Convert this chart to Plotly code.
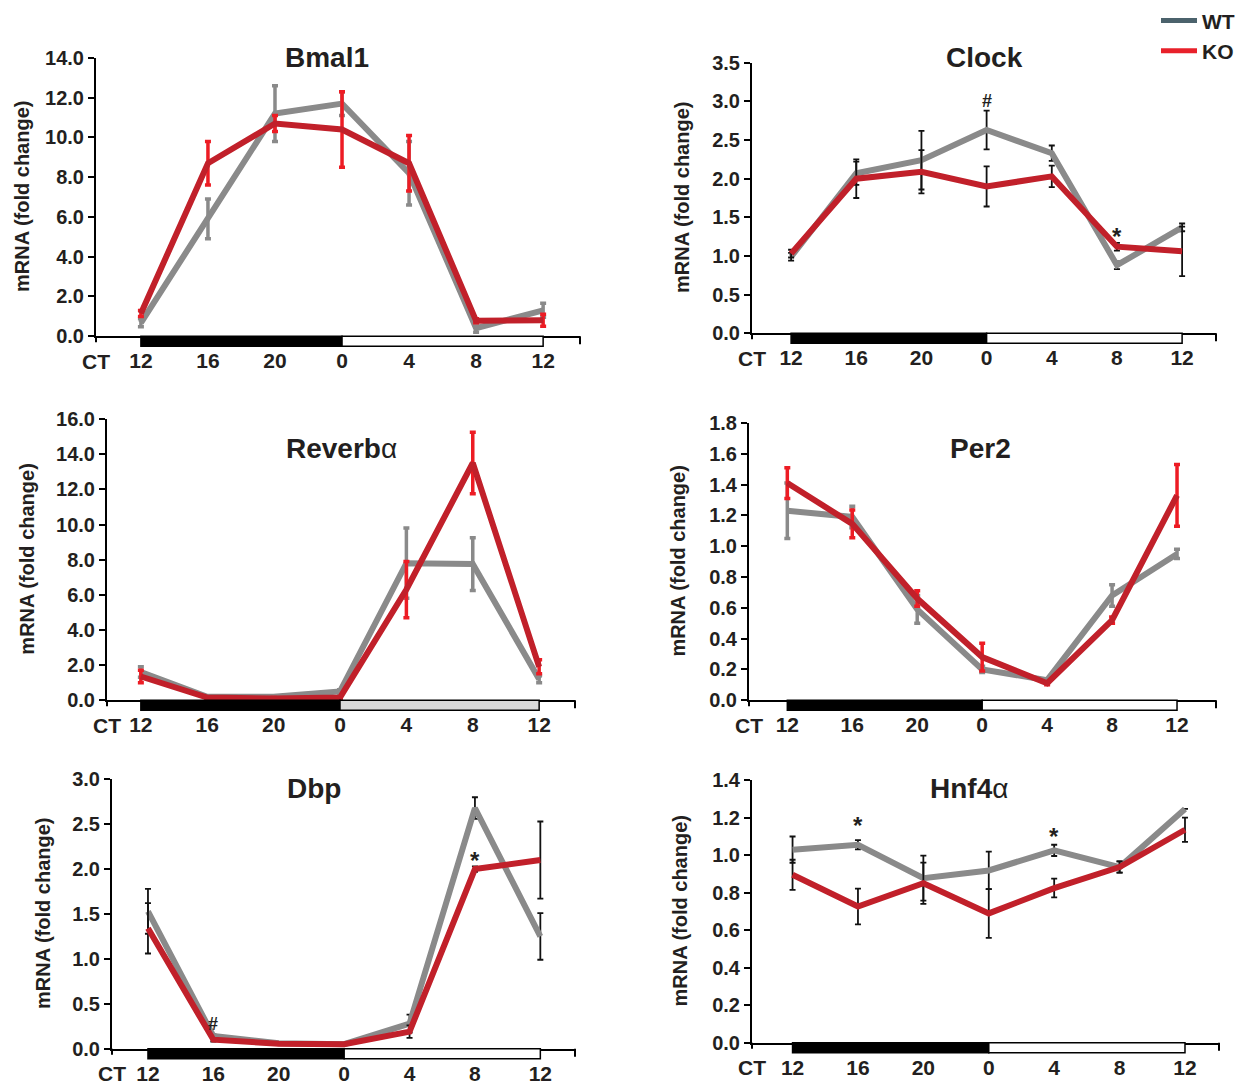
import plotly.graph_objects as go

W, H = 1257, 1087

# ---------------- data ----------------
tick_labels = ["12", "16", "20", "0", "4", "8", "12"]
time_idx = [0, 1, 2, 3, 4, 5, 6]

bmal1_wt = [0.67, 5.9, 11.2, 11.7, 8.2, 0.4, 1.3]
bmal1_wt_err = [0.2, 1.0, 1.4, 0.6, 1.6, 0.2, 0.35]
bmal1_ko = [1.14, 8.7, 10.7, 10.4, 8.7, 0.77, 0.8]
bmal1_ko_err = [0.15, 1.1, 0.4, 1.9, 1.4, 0.1, 0.3]

clock_wt = [0.99, 2.07, 2.24, 2.63, 2.33, 0.88, 1.37]
clock_wt_err = [0.05, 0.15, 0.38, 0.25, 0.1, 0.05, 0.05]
clock_ko = [1.03, 2.0, 2.09, 1.9, 2.03, 1.12, 1.06]
clock_ko_err = [0.05, 0.25, 0.28, 0.26, 0.14, 0.05, 0.32]

reverb_wt = [1.6, 0.2, 0.2, 0.5, 7.8, 7.75, 1.2]
reverb_wt_err = [0.3, 0.05, 0.05, 0.1, 2.0, 1.5, 0.2]
reverb_ko = [1.35, 0.15, 0.1, 0.15, 6.3, 13.5, 1.9]
reverb_ko_err = [0.35, 0.05, 0.05, 0.05, 1.6, 1.75, 0.4]

per2_wt = [1.23, 1.19, 0.59, 0.2, 0.13, 0.68, 0.95]
per2_wt_err = [0.18, 0.07, 0.09, 0.02, 0.01, 0.07, 0.03]
per2_ko = [1.41, 1.145, 0.66, 0.28, 0.11, 0.52, 1.33]
per2_ko_err = [0.1, 0.09, 0.05, 0.09, 0.01, 0.02, 0.2]

dbp_wt = [1.53, 0.14, 0.06, 0.05, 0.28, 2.68, 1.25]
dbp_wt_err = [0.25, 0.02, 0.01, 0.01, 0.1, 0.12, 0.26]
dbp_ko = [1.34, 0.1, 0.055, 0.05, 0.19, 2.0, 2.1]
dbp_ko_err = [0.28, 0.02, 0.01, 0.01, 0.07, 0.03, 0.43]

hnf4a_wt = [1.03, 1.056, 0.878, 0.919, 1.026, 0.937, 1.247]
hnf4a_wt_err = [0.07, 0.025, 0.12, 0.1, 0.03, 0.03, 0.0]
hnf4a_ko = [0.896, 0.727, 0.851, 0.69, 0.825, 0.937, 1.136]
hnf4a_ko_err = [0.08, 0.095, 0.11, 0.13, 0.05, 0.03, 0.065]

# significance marks: (time index, y, symbol)
clock_marks = [(3, 3.0, "#"), (5, 1.25, "*")]
dbp_marks = [(1, 0.27, "#"), (5, 2.1, "*")]
hnf4a_marks = [(1, 1.16, "*"), (4, 1.1, "*")]

# ---------------- styling / layout ----------------
WT_LINE = "#8a8a8a"
KO_LINE = "#c1202a"
WT_ERR_C = "#8a8a8a"
KO_ERR_C = "#ed1c24"
FONT = "Liberation Sans"
TXT = "#231f20"
ALPHA = "<span style='font-weight:normal'>α</span>"

panels = [
    dict(name="Bmal1", wt=bmal1_wt, wte=bmal1_wt_err, ko=bmal1_ko, koe=bmal1_ko_err,
         colored=True, yr=[0, 14], dt=2, box=(96, 580, 44, 329), xr=[-0.67, 6.55],
         tx=0.477, ty=1.0, ylx=22, marks=[], light=False),
    dict(name="Clock", wt=clock_wt, wte=clock_wt_err, ko=clock_ko, koe=clock_ko_err,
         colored=False, yr=[0, 3.5], dt=0.5, box=(752, 1216, 49, 326), xr=[-0.6, 6.52],
         tx=0.5, ty=1.02, ylx=682, marks=clock_marks, light=False),
    dict(name="Reverb" + ALPHA, wt=reverb_wt, wte=reverb_wt_err, ko=reverb_ko,
         koe=reverb_ko_err, colored=True, yr=[0, 16], dt=2, box=(107, 575, 414, 702),
         xr=[-0.51, 6.54], tx=0.502, ty=0.894, ylx=27, marks=[], light=True),
    dict(name="Per2", wt=per2_wt, wte=per2_wt_err, ko=per2_ko, koe=per2_ko_err,
         colored=True, yr=[0, 1.8], dt=0.2, box=(749, 1216, 418, 702), xr=[-0.59, 6.6],
         tx=0.495, ty=0.907, ylx=678, marks=[], light=False),
    dict(name="Dbp", wt=dbp_wt, wte=dbp_wt_err, ko=dbp_ko, koe=dbp_ko_err,
         colored=False, yr=[0, 3], dt=0.5, box=(112, 575, 783, 1059), xr=[-0.55, 6.53],
         tx=0.436, ty=0.967, ylx=43, marks=dbp_marks, light=False),
    dict(name="Hnf4" + ALPHA, wt=hnf4a_wt, wte=hnf4a_wt_err, ko=hnf4a_ko,
         koe=hnf4a_ko_err, colored=False, yr=[0, 1.4], dt=0.2, box=(752, 1219, 784, 1053),
         xr=[-0.62, 6.52], tx=0.465, ty=0.97, ylx=680, marks=hnf4a_marks, light=False),
]

fig = go.Figure()
annotations = []
shapes = []

for i, p in enumerate(panels, start=1):
    sx = "" if i == 1 else str(i)
    xa, ya = "x" + sx, "y" + sx
    if p["colored"]:
        wt_ec, ko_ec, th, cw = WT_ERR_C, KO_ERR_C, 3.5, 3
    else:
        wt_ec, ko_ec, th, cw = "#111111", "#111111", 1.8, 3
    fig.add_trace(go.Scatter(
        x=time_idx, y=p["wt"], mode="lines", xaxis=xa, yaxis=ya,
        line=dict(color=WT_LINE, width=6), showlegend=False,
        error_y=dict(type="data", array=p["wte"], visible=True, color=wt_ec,
                     thickness=th, width=cw)))
    fig.add_trace(go.Scatter(
        x=time_idx, y=p["ko"], mode="lines", xaxis=xa, yaxis=ya,
        line=dict(color=KO_LINE, width=6), showlegend=False,
        error_y=dict(type="data", array=p["koe"], visible=True, color=ko_ec,
                     thickness=th, width=cw)))

    l, r, t, b = p["box"]
    xdom = [l / W, r / W]
    ydom = [1 - b / H, 1 - t / H]
    fig.layout["xaxis" + sx] = dict(
        domain=xdom, anchor=ya, range=p["xr"], tickmode="array",
        tickvals=time_idx, ticktext=tick_labels, showgrid=False, zeroline=False,
        showline=True, linecolor="black", linewidth=2, ticks="", ticklabelstandoff=5,
        tickfont=dict(family=FONT, size=21, color=TXT, weight="bold"), fixedrange=True)
    fig.layout["yaxis" + sx] = dict(
        domain=ydom, anchor=xa, range=p["yr"], dtick=p["dt"], tick0=0,
        tickformat=".1f", showgrid=False, zeroline=False, showline=True,
        linecolor="black", linewidth=2, ticks="outside", ticklen=6, tickwidth=2,
        tickcolor="black", tickfont=dict(family=FONT, size=20, color=TXT, weight="bold"))

    # dark / light phase bar under the axis
    shapes.append(dict(type="rect", xref=xa, yref=ya + " domain", x0=0, x1=3,
                       ysizemode="pixel", yanchor=0, y0=-10, y1=0, fillcolor="black",
                       line=dict(color="black", width=1.5), layer="above"))
    shapes.append(dict(type="rect", xref=xa, yref=ya + " domain", x0=3, x1=6,
                       ysizemode="pixel", yanchor=0, y0=-10, y1=0,
                       fillcolor="#d9d9d9" if p["light"] else "white",
                       line=dict(color="black", width=1.5), layer="above"))
    # end tick on x axis and y-axis overhang
    shapes.append(dict(type="line", xref=xa + " domain", yref=ya + " domain", x0=1, x1=1,
                       ysizemode="pixel", yanchor=0, y0=0, y1=-8,
                       line=dict(color="black", width=2)))
    shapes.append(dict(type="line", xref=xa + " domain", yref=ya + " domain", x0=0, x1=0,
                       ysizemode="pixel", yanchor=0, y0=0, y1=-6,
                       line=dict(color="black", width=2)))

    annotations.append(dict(text=p["name"], xref=xa + " domain", yref=ya + " domain",
                            x=p["tx"], y=p["ty"], showarrow=False, xanchor="center",
                            yanchor="middle",
                            font=dict(family=FONT, size=28, color=TXT, weight="bold")))
    annotations.append(dict(text="mRNA (fold change)", xref="paper", yref=ya + " domain",
                            x=p["ylx"] / W, y=0.5, textangle=-90, showarrow=False,
                            xanchor="center", yanchor="middle",
                            font=dict(family=FONT, size=20, color=TXT, weight="bold")))
    annotations.append(dict(text="CT", xref=xa + " domain", yref=ya + " domain",
                            x=0, y=0, yshift=-25, showarrow=False, xanchor="center",
                            yanchor="middle",
                            font=dict(family=FONT, size=21, color=TXT, weight="bold")))
    for (xi, yv, s) in p["marks"]:
        annotations.append(dict(text=s, xref=xa, yref=ya, x=xi, y=yv, showarrow=False,
                                xanchor="center", yanchor="middle",
                                font=dict(family=FONT, size=24 if s == "*" else 18,
                                          color=TXT, weight="bold")))

# legend-only traces
fig.add_trace(go.Scatter(x=[None], y=[None], mode="lines", name="WT",
                         line=dict(color="#4b626c", width=5)))
fig.add_trace(go.Scatter(x=[None], y=[None], mode="lines", name="KO",
                         line=dict(color="#e8202a", width=5)))

fig.update_layout(
    width=W, height=H, margin=dict(l=0, r=0, t=0, b=0),
    plot_bgcolor="white", paper_bgcolor="white",
    annotations=annotations, shapes=shapes,
    showlegend=True,
    legend=dict(x=1156 / W, y=1 + 15 / H, xanchor="left", yanchor="top",
                bgcolor="rgba(0,0,0,0)", tracegroupgap=0, itemwidth=36,
                font=dict(family=FONT, size=21, color=TXT, weight="bold")),
)

fig.write_html("out.html")
